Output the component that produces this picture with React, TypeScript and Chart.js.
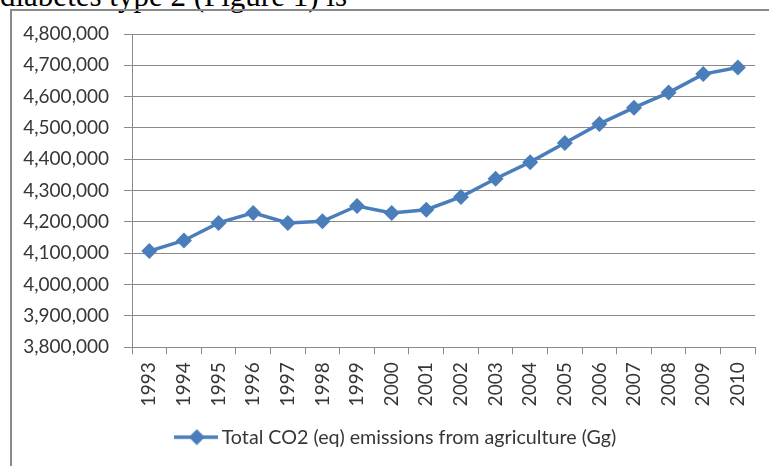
import React, { useEffect, useRef } from "react";
import { Chart, registerables } from "chart.js";

Chart.register(...registerables);

// ---- data ----
const years: string[] = [
  "1993", "1994", "1995", "1996", "1997", "1998", "1999", "2000", "2001",
  "2002", "2003", "2004", "2005", "2006", "2007", "2008", "2009", "2010",
];
const emissions: number[] = [
  4107000, 4141000, 4197000, 4229000, 4197000, 4202000, 4251000, 4229000, 4239000,
  4280000, 4338000, 4391000, 4452000, 4513000, 4565000, 4613000, 4672000, 4693000,
];
const seriesLabel = "Total CO2 (eq) emissions from agriculture (Gg)";
const yMin = 3800000;
const yMax = 4800000;
const yStep = 100000;
const captionText = "diabetes type 2 (Figure 1) is";

// ---- styles ----
const LINE_COLOR = "#4a7ebb";
const GRID_COLOR = "#8a8a8a";
const TEXT_COLOR = "#363636";
const FONT_FAMILY = "Lato, 'Open Sans', sans-serif";
const FONT_SIZE = 19;
const LEGEND_FONT_SIZE = 19.7;
const LEGEND_SHIFT = 19;

function makeLegendImage(): HTMLCanvasElement {
  const c = document.createElement("canvas");
  c.width = 44;
  c.height = 18;
  const ctx = c.getContext("2d")!;
  ctx.strokeStyle = LINE_COLOR;
  ctx.lineWidth = 3.5;
  ctx.beginPath();
  ctx.moveTo(0, 9);
  ctx.lineTo(44, 9);
  ctx.stroke();
  ctx.fillStyle = LINE_COLOR;
  ctx.beginPath();
  ctx.moveTo(23, 1);
  ctx.lineTo(31, 9);
  ctx.lineTo(23, 17);
  ctx.lineTo(15, 9);
  ctx.closePath();
  ctx.fill();
  return c;
}

const shiftLegendPlugin = {
  id: "shiftLegend",
  afterLayout(chart: any) {
    if (chart.legend) {
      chart.legend.left += LEGEND_SHIFT;
      chart.legend.right += LEGEND_SHIFT;
    }
  },
};

export default function App() {
  const canvasRef = useRef<HTMLCanvasElement | null>(null);

  useEffect(() => {
    if (!canvasRef.current) return;
    const legendImg = makeLegendImage();
    const font = { family: FONT_FAMILY, size: FONT_SIZE };
    const chart = new Chart(canvasRef.current, {
      type: "line",
      data: {
        labels: years,
        datasets: [
          {
            label: seriesLabel,
            data: emissions,
            borderColor: LINE_COLOR,
            backgroundColor: LINE_COLOR,
            borderWidth: 3.5,
            pointStyle: "rectRot",
            pointRadius: 8,
            pointBorderWidth: 0,
            pointBackgroundColor: LINE_COLOR,
            tension: 0,
          },
        ],
      },
      plugins: [shiftLegendPlugin],
      options: {
        animation: false,
        responsive: false,
        maintainAspectRatio: false,
        layout: { padding: { left: 0, right: 11, top: 34, bottom: 9 } },
        plugins: {
          tooltip: { enabled: false },
          legend: {
            display: true,
            position: "bottom",
            labels: {
              usePointStyle: true,
              pointStyleWidth: 32,
              font: { family: FONT_FAMILY, size: LEGEND_FONT_SIZE },
              color: TEXT_COLOR,
              generateLabels: () => [
                {
                  text: seriesLabel,
                  pointStyle: legendImg as any,
                  fillStyle: LINE_COLOR,
                  strokeStyle: LINE_COLOR,
                  lineWidth: 0,
                  hidden: false,
                  datasetIndex: 0,
                  fontColor: TEXT_COLOR,
                } as any,
              ],
            },
          },
        },
        scales: {
          x: {
            type: "category",
            offset: true,
            grid: {
              offset: true,
              drawOnChartArea: false,
              drawTicks: true,
              tickLength: 7,
              color: GRID_COLOR,
            },
            border: { display: true, color: GRID_COLOR, width: 1 },
            ticks: {
              autoSkip: false,
              minRotation: 90,
              maxRotation: 90,
              padding: 8,
              font,
              color: TEXT_COLOR,
            },
            afterFit: (s: any) => {
              s.height = 70;
            },
          },
          y: {
            min: yMin,
            max: yMax,
            grid: { color: GRID_COLOR, tickLength: 8, drawTicks: true },
            border: { display: true, color: GRID_COLOR, width: 1 },
            ticks: {
              stepSize: yStep,
              padding: 15,
              font,
              color: TEXT_COLOR,
              callback: (v: any) => Number(v).toLocaleString("en-US"),
            },
            afterFit: (s: any) => {
              s.width = 132;
            },
          },
        },
      },
    });
    return () => chart.destroy();
  }, []);

  return (
    <div
      style={{
        position: "fixed",
        left: 0,
        top: 0,
        width: 769,
        height: 466,
        overflow: "hidden",
        background: "#ffffff",
      }}
    >
      <div
        style={{
          position: "absolute",
          left: 0,
          top: -20,
          fontFamily: "'Liberation Serif', 'Times New Roman', serif",
          fontSize: 31,
          lineHeight: "31px",
          whiteSpace: "nowrap",
          color: "#000000",
        }}
      >
        {captionText}
      </div>
      <div
        style={{
          position: "absolute",
          left: 10,
          top: 9,
          width: 800,
          height: 500,
          borderLeft: `2px solid ${GRID_COLOR}`,
          borderTop: `2px solid ${GRID_COLOR}`,
        }}
      />
      <canvas
        ref={canvasRef}
        width={769}
        height={466}
        style={{ position: "absolute", left: 0, top: 0, width: 769, height: 466 }}
      />
    </div>
  );
}
